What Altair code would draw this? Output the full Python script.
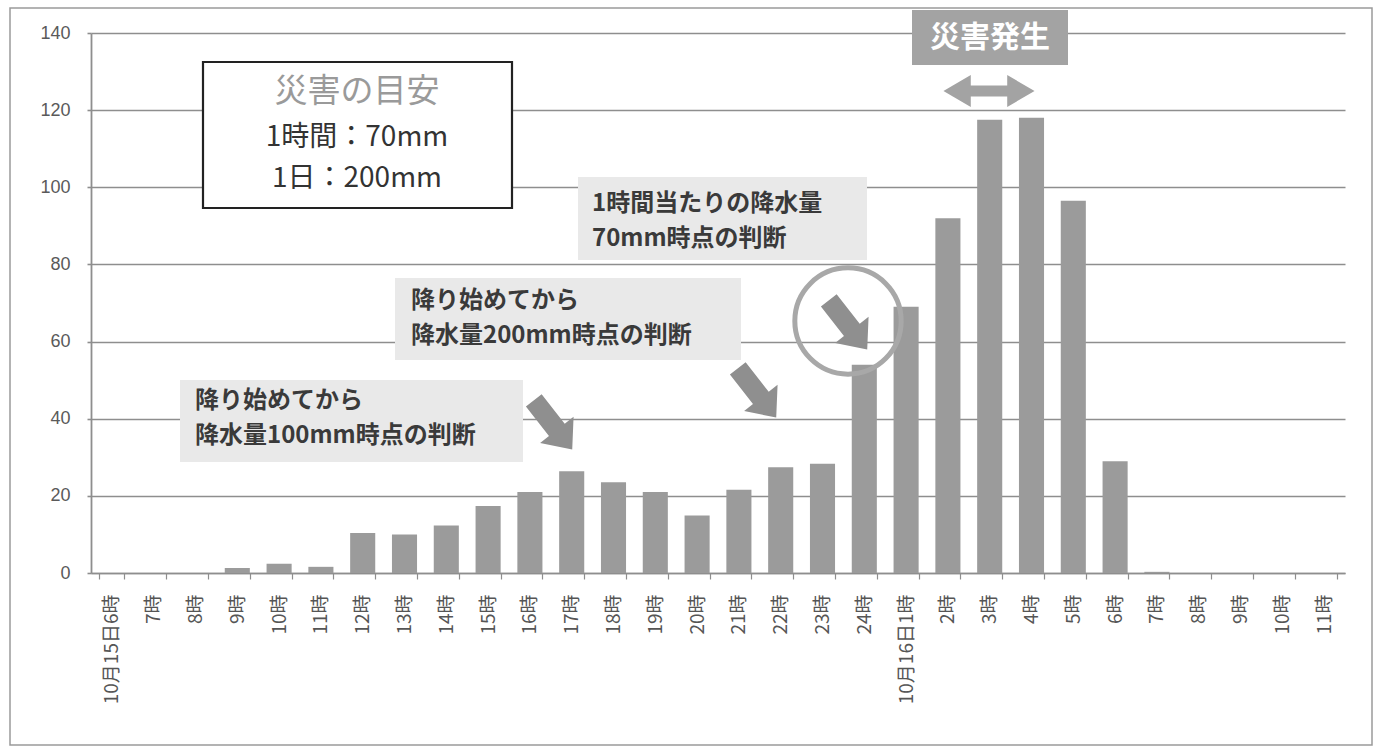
import altair as alt
import pandas as pd

# ---- data ----
labels = ["10月15日6時", "7時", "8時", "9時", "10時", "11時", "12時", "13時", "14時",
          "15時", "16時", "17時", "18時", "19時", "20時", "21時", "22時", "23時", "24時",
          "10月16日1時", "2時", "3時", "4時", "5時", "6時", "7時", "8時", "9時", "10時", "11時"]
rain = [0, 0, 0, 1.3, 2.4, 1.6, 10.4, 10.0, 12.3, 17.4, 21.0, 26.4, 23.5, 21.0, 14.9,
        21.6, 27.4, 28.3, 54.0, 69.0, 92.0, 117.5, 118.0, 96.5, 29.0, 0.3, 0, 0, 0, 0]
y_ticks = [0, 20, 40, 60, 80, 100, 120, 140]

box_title = "災害の目安"
box_body = ["1時間：70mm", "1日：200mm"]
disaster_text = "災害発生"
note_70 = ["1時間当たりの降水量", "70mm時点の判断"]
note_200 = ["降り始めてから", "降水量200mm時点の判断"]
note_100 = ["降り始めてから", "降水量100mm時点の判断"]

W, H = 1254, 540
JP = "Noto Sans CJK JP"
GRID = "#8e8e8e"

df = pd.DataFrame({"i": list(range(len(labels))), "rain": rain})
one = pd.DataFrame({"k": [0]})

label_expr = "[" + ",".join("'" + l + "'" for l in labels) + "][datum.value]"

bars = alt.Chart(df).mark_bar(color="#9b9b9b").encode(
    x=alt.X("i:O", sort=None,
            scale=alt.Scale(paddingInner=0.4, paddingOuter=0.2),
            axis=alt.Axis(title=None, labelExpr=label_expr, labelAngle=270,
                          labelFont=JP, labelFontSize=19, labelColor="#555555",
                          labelPadding=15, tickBand="extent", tickSize=6,
                          tickColor=GRID, tickWidth=1.2, domainColor=GRID,
                          domainWidth=1.6, grid=False)),
    y=alt.Y("rain:Q", scale=alt.Scale(domain=[0, 140], nice=False),
            axis=alt.Axis(title=None, values=y_ticks, grid=True, gridColor=GRID,
                          gridWidth=1.6, tickSize=4, tickColor=GRID, tickWidth=1.6,
                          domainColor=GRID, domainWidth=1.8,
                          labelFont="Liberation Sans", labelFontSize=18,
                          labelColor="#5a5a5a", labelPadding=17)),
)


def rect(x, x2, y, y2, **kw):
    return alt.Chart(one).mark_rect(**kw).encode(
        x=alt.value(x), x2=alt.value(x2), y=alt.value(y), y2=alt.value(y2))


def text(x, y, s, **kw):
    return alt.Chart(one).mark_text(**kw).encode(
        x=alt.value(x), y=alt.value(y), text=alt.value(s))


def symbol(x, y, shape, size, angle=0, **kw):
    return alt.Chart(one).mark_point(shape=shape, size=size, angle=angle, **kw).encode(
        x=alt.value(x), y=alt.value(y))


layers = [bars]

# outer scanned frame
layers.append(rect(-81, 1281, -25, 712, fillOpacity=0, stroke="#9a9a9a", strokeWidth=1.5))

# 災害の目安 box
layers.append(rect(112, 421, 29, 175, fill="white", stroke="#222222", strokeWidth=2.2))
layers.append(text(266, 59, box_title, font=JP, fontSize=33, color="#9a9a9a",
                   align="center", baseline="middle"))
layers.append(text(266, 105, "\n".join(box_body), font=JP, fontSize=28, color="#333333",
                   align="center", baseline="middle", lineBreak="\n", lineHeight=41))

# 災害発生 label and double arrow
layers.append(rect(821, 977, -23, 32, fill="#a3a3a3"))
layers.append(text(899, 5, disaster_text, font=JP, fontSize=30, fontWeight="bold",
                   color="white", align="center", baseline="middle"))
dbl = ("M -1 0 L -0.4 -0.35 L -0.4 -0.12 L 0.4 -0.12 L 0.4 -0.35 L 1 0 "
       "L 0.4 0.35 L 0.4 0.12 L -0.4 0.12 L -0.4 0.35 Z")
layers.append(symbol(898, 58, dbl, 8300, filled=True, color="#a3a3a3", opacity=1))

# note backgrounds and texts (y = centre of first line)
for (bx, bx2, by, by2, tx, ty, lines) in [
    (487, 776, 144, 227, 501, 171, note_70),
    (304, 650, 245, 327, 320, 268, note_200),
    (89, 432, 347, 429, 104, 368, note_100),
]:
    layers.append(rect(bx, bx2, by, by2, fill="#e9e9e9"))
    layers.append(text(tx, ty, "\n".join(lines), font=JP, fontSize=24, fontWeight="bold",
                       color="#3a3a3a", align="left", baseline="middle",
                       lineBreak="\n", lineHeight=35))

# block arrows
arrow = ("M -0.32 -1 L 0.32 -1 L 0.32 0.2 L 0.68 0.2 L 0 1 L -0.68 0.2 "
         "L -0.32 0.2 Z")
for (ax, ay) in [(462, 392), (666, 360), (757, 292)]:
    layers.append(symbol(ax, ay, arrow, 3900, angle=322, filled=True,
                         color="#8f8f8f", opacity=1))

# circle ring
layers.append(symbol(757, 288, "circle", 3.1416 * 60 * 60, filled=False,
                     color="#a8a8a8", strokeWidth=5, opacity=1))

chart = alt.layer(*layers).properties(
    width=W, height=H,
    padding={"left": 91, "top": 33, "right": 33, "bottom": 177},
    autosize=alt.AutoSizeParams(type="none"),
).configure_view(stroke=None)

chart.save("out.html", embed_options={"renderer": "svg", "actions": False})
